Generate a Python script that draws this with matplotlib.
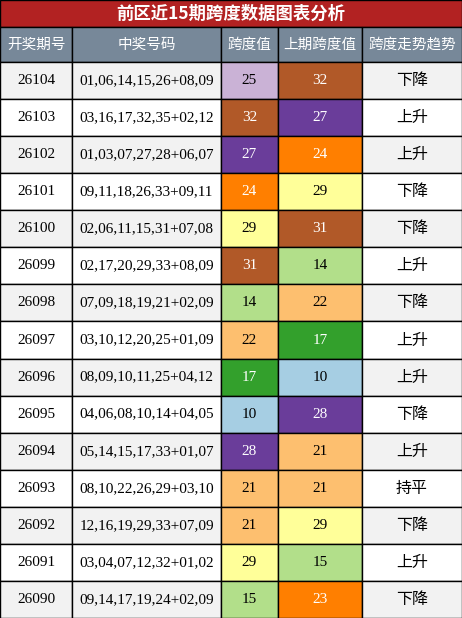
import matplotlib.pyplot as plt
from matplotlib.patches import Rectangle

plt.rcParams['font.family'] = ['Liberation Serif', 'Noto Sans CJK SC']

title = '前区近15期跨度数据图表分析'
headers = ['开奖期号', '中奖号码', '跨度值', '上期跨度值', '跨度走势趋势']
issues = ['26104', '26103', '26102', '26101', '26100', '26099', '26098', '26097',
          '26096', '26095', '26094', '26093', '26092', '26091', '26090']
numbers = ['01,06,14,15,26+08,09', '03,16,17,32,35+02,12', '01,03,07,27,28+06,07',
           '09,11,18,26,33+09,11', '02,06,11,15,31+07,08', '02,17,20,29,33+08,09',
           '07,09,18,19,21+02,09', '03,10,12,20,25+01,09', '08,09,10,11,25+04,12',
           '04,06,08,10,14+04,05', '05,14,15,17,33+01,07', '08,10,22,26,29+03,10',
           '12,16,19,29,33+07,09', '03,04,07,12,32+01,02', '09,14,17,19,24+02,09']
spans = [25, 32, 27, 24, 29, 31, 14, 22, 17, 10, 28, 21, 21, 29, 15]
prev_spans = [32, 27, 24, 29, 31, 14, 22, 17, 10, 28, 21, 21, 29, 15, 23]
trends = ['下降', '上升', '上升', '下降', '下降', '上升', '下降', '上升',
          '上升', '下降', '上升', '持平', '下降', '上升', '下降']

span_colors = {10: '#a6cee3', 14: '#b2df8a', 15: '#b2df8a', 17: '#33a02c',
               21: '#fdbf6f', 22: '#fdbf6f', 23: '#ff7f00', 24: '#ff7f00',
               25: '#cab2d6', 27: '#6a3d9a', 28: '#6a3d9a', 29: '#ffff99',
               31: '#b15928', 32: '#b15928'}
dark = {17, 23, 24, 27, 28, 31, 32}

W, H = 462, 618
col_x = [0, 72, 221, 278, 362, 462]
title_h, head_h = 27, 35
row_h = (H - title_h - head_h) / len(issues)

fig = plt.figure(figsize=(W / 100, H / 100), dpi=100)
ax = fig.add_axes([0, 0, 1, 1])
ax.set_xlim(0, W)
ax.set_ylim(H, 0)
ax.axis('off')

ax.add_patch(Rectangle((0, 0), W, title_h, facecolor='#b22222', edgecolor='black', lw=1))
ax.text(W / 2, title_h / 2, title, color='white', fontsize=12.5, fontweight='bold',
        ha='center', va='center', family=['Noto Sans CJK SC'])

for j, h in enumerate(headers):
    x0, x1 = col_x[j], col_x[j + 1]
    ax.add_patch(Rectangle((x0, title_h), x1 - x0, head_h, facecolor='#778899',
                           edgecolor='black', lw=1))
    ax.text((x0 + x1) / 2, title_h + head_h / 2, h, color='white', fontsize=10.5,
            ha='center', va='center', family=['Noto Sans CJK SC'])

for i in range(len(issues)):
    y0 = title_h + head_h + i * row_h
    bg = '#f2f2f2' if i % 2 == 0 else 'white'
    cells = [issues[i], numbers[i], str(spans[i]), str(prev_spans[i]), trends[i]]
    for j, txt in enumerate(cells):
        x0, x1 = col_x[j], col_x[j + 1]
        fc, tc = bg, 'black'
        if j == 2:
            fc = span_colors[spans[i]]
            tc = 'white' if spans[i] in dark else 'black'
        elif j == 3:
            fc = span_colors[prev_spans[i]]
            tc = 'white' if prev_spans[i] in dark else 'black'
        ax.add_patch(Rectangle((x0, y0), x1 - x0, row_h, facecolor=fc,
                               edgecolor='black', lw=1))
        kw = dict(family=['Noto Sans CJK SC']) if j == 4 else {}
        ax.text((x0 + x1) / 2, y0 + row_h / 2, txt, color=tc,
                fontsize=11 if j != 4 else 11.5, ha='center', va='center', **kw)

fig.savefig('out.png', dpi=100)
